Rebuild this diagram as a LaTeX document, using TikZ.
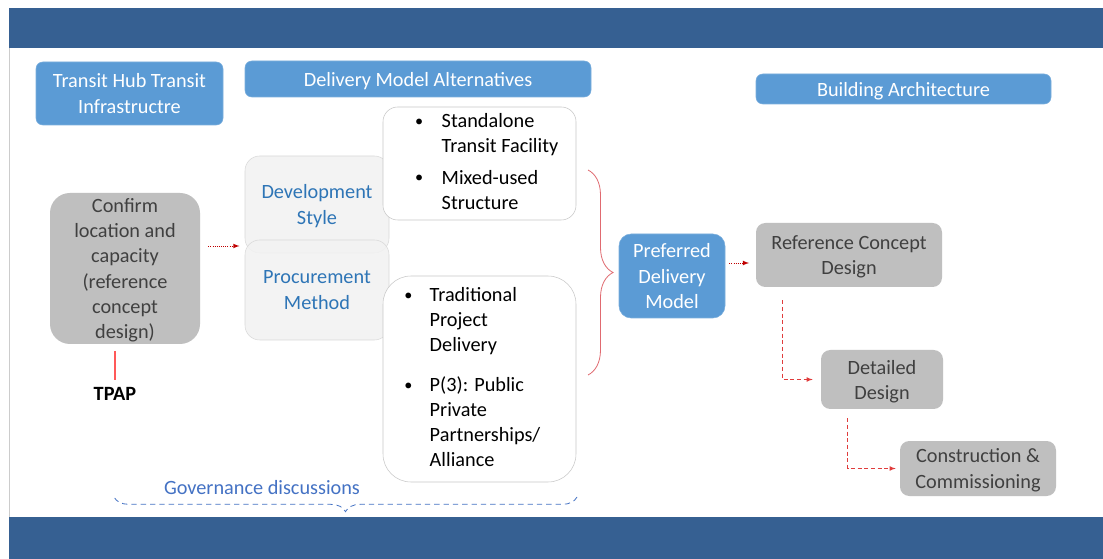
\documentclass[tikz,border=0pt]{standalone}
\usepackage{fontspec}
\setmainfont{Carlito}
\usetikzlibrary{arrows,decorations.pathreplacing}

\definecolor{bandblue}{HTML}{366092}
\definecolor{boxblue}{HTML}{5B9BD5}
\definecolor{boxgray}{HTML}{BFBFBF}
\definecolor{txtgray}{HTML}{404040}
\definecolor{styleblue}{HTML}{2E75B6}
\definecolor{govblue}{HTML}{4472C4}
\definecolor{arrowred}{HTML}{C00000}
\definecolor{linered}{HTML}{E03C3C}
\definecolor{bracered}{HTML}{E06A70}

\newcommand{\blt}{\raisebox{1pt}{\scalebox{0.8}{•}}}

\tikzset{
  basefont/.style = {font=\fontsize{15.2pt}{18.8pt}\selectfont,text depth=0pt},
  headbox/.style  = {basefont,fill=boxblue,draw=boxblue!80!white,text=white,
                     rounded corners=5pt,inner sep=0pt,align=center},
  graybox/.style  = {basefont,fill=boxgray,text=txtgray,rounded corners=7pt,
                     inner sep=0pt,align=center},
  stylebox/.style = {basefont,fill=black!5,fill opacity=.85,text opacity=1,
                     draw=black!15,text=styleblue,rounded corners=11pt,
                     minimum width=108pt,inner sep=0pt,align=center},
  listbox/.style  = {font=\fontsize{15.2pt}{18.8pt}\selectfont,fill=white,
                     draw=black!22,minimum width=144.75pt,inner sep=0pt},
  dotarrow/.style = {->,>=latex,arrowred,densely dotted,semithick},
  dasharrow/.style= {->,>=latex,linered,dash pattern=on 3pt off 2pt,semithick},
}

\begin{document}
\begin{tikzpicture}[x=0.75pt,y=-0.75pt]
\useasboundingbox[fill=white] (0,0) rectangle (1103,559);
\fill[bandblue] (9,8) rectangle (1103,48);
\fill[bandblue] (9,517) rectangle (1103,559);
\draw[black!20] (9,48) -- (9,517);

% headers
\node[headbox,minimum width=140.25pt,minimum height=47.25pt] (hub) at (129.5,93.5)
     {Transit Hub Transit\\Infrastructre};
\node[headbox,minimum width=259.5pt,minimum height=27pt] (dma) at (418,79)
     {Delivery Model Alternatives};
\node[headbox,minimum width=221.25pt,minimum height=22.5pt] (arch) at (903.5,89)
     {Building Architecture};

% left column
\node[graybox,rounded corners=15pt,minimum width=112.5pt,minimum height=113.25pt]
     (confirm) at (125,268.5)
     {Confirm\\location and\\capacity\\(reference\\concept\\design)};
\node[basefont,font=\fontsize{15.2pt}{18.8pt}\selectfont\bfseries,inner sep=3pt]
     (tpap) at (115,394) {TPAP};

\node[stylebox,minimum height=72.75pt] (dev) at (317,204.5) {Development\\Style};
\node[stylebox,minimum height=75pt] (proc) at (317,290) {Procurement\\Method};

\node[listbox,minimum height=84.75pt,rounded corners=11pt] (styles) at (479.5,163.5)
     {\makebox[144.75pt][l]{\hspace{24pt}\begin{tabular}{@{}l@{\hspace{14pt}}l@{}}
      \blt & Standalone\\ & Transit Facility\\[4.5pt]
      \blt & Mixed-used\\ & Structure
      \end{tabular}}};
\node[listbox,minimum height=154.5pt,rounded corners=21pt] (methods) at (479.5,379)
     {\makebox[144.75pt][l]{\hspace{16pt}\begin{tabular}{@{}l@{\hspace{13pt}}l@{}}
      \blt & Traditional\\ & Project\\ & Delivery\\[11pt]
      \blt & P(3): Public\\ & Private\\ & Partnerships/\\ & Alliance
      \end{tabular}}};

% right column
\node[headbox,rounded corners=9pt,minimum width=79.5pt,minimum height=63pt]
     (pref) at (672,276) {Preferred\\Delivery\\Model};
\node[graybox,minimum width=139.5pt,minimum height=48pt] (refc) at (849,255)
     {Reference Concept\\Design};
\node[graybox,minimum width=91.5pt,minimum height=44.25pt] (detail) at (882,379.5)
     {Detailed\\Design};
\node[graybox,minimum width=117pt,minimum height=41.25pt] (constr) at (978,468.5)
     {Construction \&\\Commissioning};

\node[basefont,text=govblue] (gov) at (262,487) {Governance discussions};

% connectors
\draw[red!65,line width=0.9pt] ([yshift=-5pt]confirm.south -| tpap) -- ([yshift=2pt]tpap.north);
\draw[dotarrow] ([shift={(8,-22.5)}]confirm.east) coordinate (c1) -- ([xshift=-4]c1 -| dev.west);
\draw[dotarrow] ([shift={(4,-13)}]pref.east) coordinate (c2) -- ([xshift=-5]c2 -| refc.west);
\draw[dasharrow] ([shift={(27,13)}]refc.south west) |- ([xshift=-6]detail.west);
\draw[dasharrow] ([shift={(27,9)}]detail.south west) |- ([xshift=-3]constr.west);

% braces
\coordinate (bt) at (588,170);
\coordinate (bb) at (588,375);
\draw[bracered,semithick,decorate,decoration={brace,amplitude=18.75pt}] (bt) -- (bb);
\coordinate (gr) at (577,497);
\coordinate (gl) at (114,497);
\draw[govblue,semithick,dash pattern=on 4pt off 3pt,decorate,
      decoration={brace,amplitude=11pt}] (gr) -- (gl);
\end{tikzpicture}
\end{document}
